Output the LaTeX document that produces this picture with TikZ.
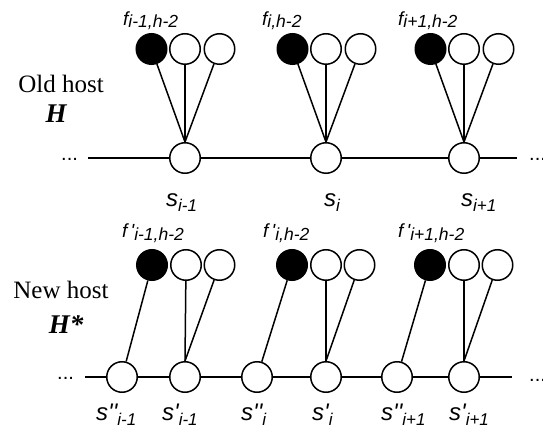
\documentclass[tikz,border=0pt]{standalone}
\usepackage{fontspec}
\setmainfont{Liberation Serif}
\newfontfamily\arialf{Liberation Sans}
\newcommand\flab[2]{{\arialf\itshape\fontsize{19}{19}\selectfont #1\raisebox{-1.5pt}{\fontsize{17.5}{17.5}\selectfont #2}}}
\newcommand\fplab[2]{{\arialf\itshape\fontsize{19}{19}\selectfont #1\raisebox{-2.5pt}{\fontsize{17.5}{17.5}\selectfont #2}}}
\newcommand\slab[2]{{\arialf\itshape\fontsize{24}{24}\selectfont #1\raisebox{-5pt}{\fontsize{17}{17}\selectfont #2}}}
\newcommand\pr{\symbol{39}}
\tikzset{
  dot/.style={circle,draw,line width=1.5pt,minimum size=30.5pt,inner sep=0pt,fill=white},
  bdot/.style={dot,fill=black},
  lab/.style={anchor=base west,inner sep=0pt},
  hostlab/.style={anchor=base,inner sep=0pt,font=\fontsize{25}{25}\selectfont},
  hlab/.style={anchor=base,inner sep=0pt,font=\fontsize{27}{27}\selectfont\bfseries\itshape},
  dots/.style={anchor=base west,inner sep=0pt,font=\arialf\fontsize{20}{20}\selectfont},
  edge/.style={line width=1.5pt}
}
\begin{document}
\begin{tikzpicture}[x=1pt,y=-1pt]
\useasboundingbox (0,0) rectangle (543,430);
% ---------- top (old host) ----------
\coordinate (tl) at (88,158);
\coordinate (tr) at (517,158);
\node[dot] (s1) at (185,158) {};
\node[dot] (s2) at (326,158) {};
\node[dot] (s3) at (464,158) {};
\foreach \n/\x in {1/185,2/326,3/464}{
  \node[bdot] (fa\n) at (\x-33.5,49) {};
  \node[dot]  (fb\n) at (\x,49) {};
  \node[dot]  (fc\n) at (\x+34.5,49) {};
}
\draw[edge] (tl) -- (s1) -- (s2) -- (s3) -- (tr);
\foreach \n in {1,2,3}{
  \draw[edge] (fa\n) -- (s\n.north);
  \draw[edge] (fb\n) -- (s\n.north);
  \draw[edge] (fc\n) -- (s\n.north);
}
\node[dots] (dtl) at (61,161) {...};
\node[dots] (dtr) at (529,161) {...};
\node[lab] (lf1) at (123,26) {\flab{f}{i-1,h-2}};
\node[lab] (lf2) at (262,26) {\flab{f}{i,h-2}};
\node[lab] (lf3) at (398,26) {\flab{f}{i+1,h-2}};
\node[lab] (ls1) at (166,207) {\slab{s}{i-1}};
\node[lab] (ls2) at (324,207) {\slab{s}{i}};
\node[lab] (ls3) at (461,207) {\slab{s}{i+1}};
\node[hostlab] (old) at (61,93) {Old host};
\node[hlab] (H) at (56,123) {H};
% ---------- bottom (new host) ----------
\coordinate (bl) at (85,377);
\coordinate (br) at (512,377);
\node[dot] (q1) at (122,377) {};
\node[dot] (p1) at (185,377) {};
\node[dot] (q2) at (257,377) {};
\node[dot] (p2) at (326,377) {};
\node[dot] (q3) at (397,377) {};
\node[dot] (p3) at (464,377) {};
\foreach \n/\x in {1/186,2/326,3/464}{
  \node[bdot] (ga\n) at (\x-34,265) {};
  \node[dot]  (gb\n) at (\x,265) {};
  \node[dot]  (gc\n) at (\x+33.5,265) {};
}
\draw[edge] (bl) -- (q1) -- (p1) -- (q2) -- (p2) -- (q3) -- (p3) -- (br);
\foreach \n in {1,2,3}{
  \draw[edge] (ga\n) -- (q\n);
  \draw[edge] (gb\n) -- (p\n.north);
  \draw[edge] (gc\n) -- (p\n.north);
}
\node[dots] (dbl) at (57,379) {...};
\node[dots] (dbr) at (529,381) {...};
\node[lab] (lg1) at (122,238) {\fplab{f\,\pr}{i-1,h-2}};
\node[lab] (lg2) at (263,238) {\fplab{f\,\pr}{i,h-2}};
\node[lab] (lg3) at (398,238) {\fplab{f\,\pr}{i+1,h-2}};
\node[lab] (lq1) at (96,420) {\slab{s\pr\pr}{i-1}};
\node[lab] (lp1) at (162,420) {\slab{s\pr}{i-1}};
\node[lab] (lq2) at (241,420) {\slab{s\pr\pr}{i}};
\node[lab] (lp2) at (312,420) {\slab{s\pr}{i}};
\node[lab] (lq3) at (381,420) {\slab{s\pr\pr}{i+1}};
\node[lab] (lp3) at (449,420) {\slab{s\pr}{i+1}};
\node[hostlab] (new) at (61,298) {New host};
\node[hlab] (Hs) at (66,333) {H*};
\end{tikzpicture}
\end{document}
